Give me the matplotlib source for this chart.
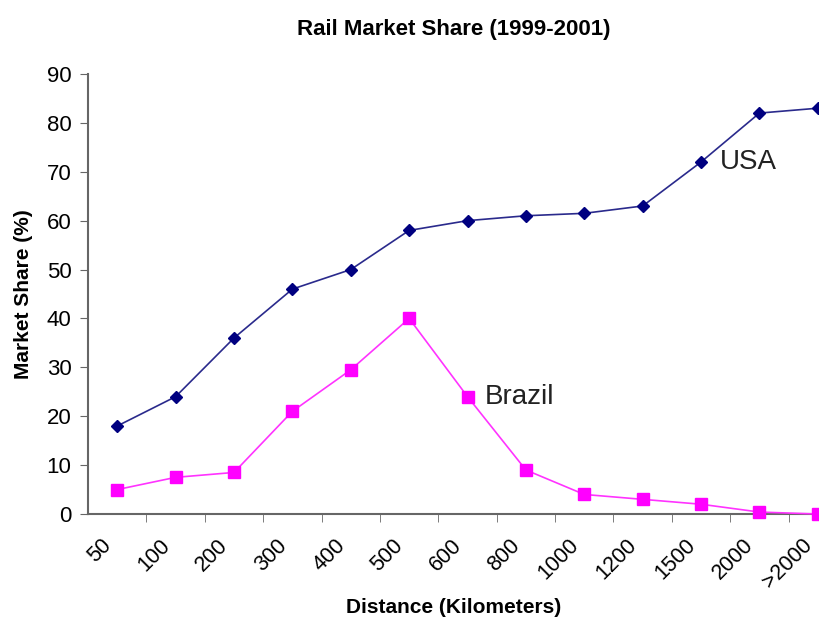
import numpy as np
import matplotlib
matplotlib.use("Agg")
import matplotlib.pyplot as plt

plt.rcParams['font.family'] = ['Liberation Sans', 'DejaVu Sans']

distances = ["50", "100", "200", "300", "400", "500", "600", "800",
             "1000", "1200", "1500", "2000", ">2000"]
usa = [18, 24, 36, 46, 50, 58, 60, 61, 61.5, 63, 72, 82, 83]
brazil = [5, 7.5, 8.5, 21, 29.5, 40, 24, 9, 4, 3, 2, 0.4, 0]

x = np.arange(len(distances))

fig = plt.figure(figsize=(8.19, 6.19), dpi=100)
ax = fig.add_axes([0.1075, 0.1696, 0.8925, 0.7109])

ax.plot(x, usa, color="#2a2a8c", lw=1.2, marker="D", ms=6,
        mfc="#000080", mec="#000080", clip_on=False, zorder=3)
ax.plot(x, brazil, color="#ff33ff", lw=1.2, marker="s", ms=8,
        mfc="#ff00ff", mec="#ff00ff", clip_on=False, zorder=3)

ax.text(10.33, 72, "USA", fontsize=20, va="center", ha="left", color="#222222")
ax.text(6.3, 24, "Brazil", fontsize=20, va="center", ha="left", color="#222222")

ax.set_yticks(range(0, 91, 10))
ax.set_xticks(x[:-1] + 0.5, minor=True)
ax.set_xticks(x - 0.28)
ax.set_xticklabels(distances, rotation=45, ha="right", rotation_mode="anchor")
ax.set_xlim(-0.5, 12.02)
ax.set_ylim(0, 90)
ax.tick_params(axis="x", which="major", length=0, labelsize=15.5, pad=15)
ax.tick_params(axis="x", which="minor", length=6, direction="out", color="#666666")
ax.tick_params(axis="y", length=6, labelsize=16, color="#666666", pad=6)

for s in ["top", "right"]:
    ax.spines[s].set_visible(False)
for s in ["left", "bottom"]:
    ax.spines[s].set_color("#666666")
    ax.spines[s].set_linewidth(1.5)

ax.set_title("Rail Market Share (1999-2001)", fontsize=16, fontweight="bold",
             pad=28)
ax.set_xlabel("Distance (Kilometers)", fontsize=15, fontweight="bold", labelpad=4)
ax.set_ylabel("Market Share (%)", fontsize=15, fontweight="bold", labelpad=10)

fig.savefig("out.png", dpi=100)
